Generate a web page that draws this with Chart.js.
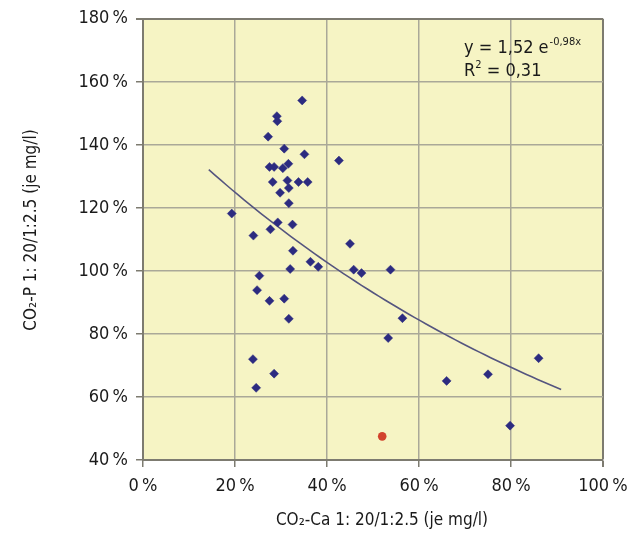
<!DOCTYPE html>
<html>
<head>
<meta charset="utf-8">
<script src="https://cdn.jsdelivr.net/npm/chart.js@4.4.1/dist/chart.umd.min.js"></script>
<style>
  html, body { margin: 0; padding: 0; background: #ffffff; }
  #wrap { width: 637px; height: 536px; position: relative; }
</style>
</head>
<body>
<div id="wrap"><canvas id="c" width="637" height="536"></canvas></div>
<script>
// CO2-Ca (x, %) vs CO2-P (y, %) per sample
const caValues = [34.6, 29.1, 29.2, 27.2, 30.7, 35.1, 42.6, 27.5, 28.5, 31.6, 30.4, 28.2, 31.4, 33.8, 35.8,
                  31.7, 29.8, 31.7, 19.3, 29.3, 32.5, 27.7, 24.0, 45.0, 32.6, 36.4, 38.1, 32.0, 45.8, 47.5,
                  25.3, 24.8, 27.5, 30.7, 31.7, 23.9, 28.5, 24.6, 53.8, 56.4, 53.3, 86.0, 66.0, 75.0, 79.8];
const pValues  = [154.1, 149.1, 147.5, 142.6, 138.8, 137.0, 135.0, 133.0, 133.0, 134.0, 132.6, 128.2, 128.7, 128.2, 128.2,
                  126.3, 124.8, 121.5, 118.2, 115.4, 114.7, 113.2, 111.2, 108.6, 106.4, 102.9, 101.3, 100.6, 100.4, 99.3,
                  98.5, 93.9, 90.5, 91.2, 84.8, 72.0, 67.4, 62.9, 100.4, 85.0, 78.7, 72.3, 65.1, 67.2, 50.9];

// highlighted single sample
const highlightCa = [52.0];
const highlightP  = [47.5];

// exponential fit as printed on the chart: y = 1,52 e^(-0,98x), x and y as fractions
const fitA = 1.52;
const fitB = -0.98;
const fitRange = [14.3, 90.9];

const xTicks = [0, 20, 40, 60, 80, 100];
const yTicks = [40, 60, 80, 100, 120, 140, 160, 180];

const FONT = '"Liberation Sans Narrow", "DejaVu Sans Condensed", "Noto Sans", sans-serif';
const pct = v => v + '\u2009%';

const scatterPts = caValues.map((x, i) => ({ x: x, y: pValues[i] }));
const highlightPts = highlightCa.map((x, i) => ({ x: x, y: highlightP[i] }));
const fitPts = [];
for (let x = fitRange[0]; x <= fitRange[1] + 1e-9; x += (fitRange[1] - fitRange[0]) / 60) {
  fitPts.push({ x: x, y: fitA * Math.exp(fitB * x / 100) * 100 });
}

const plotBg = {
  id: 'plotBg',
  beforeDraw(chart) {
    const { ctx, chartArea: a } = chart;
    ctx.save();
    ctx.fillStyle = '#f6f4c4';
    ctx.fillRect(a.left, a.top, a.right - a.left, a.bottom - a.top);
    ctx.restore();
  }
};

const texts = {
  id: 'texts',
  afterDraw(chart) {
    const ctx = chart.ctx;
    ctx.save();
    ctx.fillStyle = '#1a1a1a';
    // equation box
    ctx.textBaseline = 'alphabetic';
    ctx.textAlign = 'left';
    ctx.font = '18px ' + FONT;
    let x0 = 464, y1 = 53, y2 = 76;
    const main = 'y = 1,52 e';
    ctx.fillText(main, x0, y1);
    let w = ctx.measureText(main).width;
    ctx.font = '11px ' + FONT;
    ctx.fillText('-0,98x', x0 + w + 1, y1 - 8);
    ctx.font = '18px ' + FONT;
    ctx.fillText('R', x0, y2);
    w = ctx.measureText('R').width;
    ctx.font = '11px ' + FONT;
    ctx.fillText('2', x0 + w, y2 - 8);
    const w2 = ctx.measureText('2').width;
    ctx.font = '18px ' + FONT;
    ctx.fillText(' = 0,31', x0 + w + w2, y2);

    // axis titles
    ctx.font = '17px ' + FONT;
    ctx.textAlign = 'center';
    ctx.fillText('CO\u2082-Ca 1: 20/1:2.5 (je mg/l)', 382, 525);
    ctx.translate(36, 230);
    ctx.rotate(-Math.PI / 2);
    ctx.fillText('CO\u2082-P 1: 20/1:2.5 (je mg/l)', 0, 0);
    ctx.restore();
  }
};

new Chart(document.getElementById('c'), {
  type: 'scatter',
  data: {
    datasets: [
      {
        type: 'line',
        data: fitPts,
        borderColor: '#55557f',
        borderWidth: 1.6,
        pointRadius: 0,
        fill: false,
        tension: 0,
        order: 2
      },
      {
        data: scatterPts,
        pointStyle: 'rectRot',
        pointRadius: 4.5,
        backgroundColor: '#2c2b80',
        borderColor: '#2c2b80',
        borderWidth: 0.5,
        order: 1
      },
      {
        data: highlightPts,
        pointStyle: 'circle',
        pointRadius: 4.3,
        backgroundColor: '#d2432c',
        borderColor: '#d2432c',
        borderWidth: 0,
        order: 0
      }
    ]
  },
  options: {
    responsive: false,
    animation: false,
    events: [],
    layout: { padding: { top: 15, right: 34, left: 0, bottom: 0 } },
    plugins: { legend: { display: false }, tooltip: { enabled: false } },
    scales: {
      x: {
        type: 'linear',
        min: 0, max: 100,
        afterBuildTicks: s => { s.ticks = xTicks.map(v => ({ value: v })); },
        afterFit: s => { s.height = 76; },
        ticks: {
          callback: pct,
          color: '#1a1a1a',
          font: { family: FONT, size: 18 },
          padding: 9,
          maxRotation: 0
        },
        grid: {
          color: ctx => (ctx.tick && ctx.tick.value === 100) ? '#7d7b70' : '#aaa898',
          lineWidth: ctx => (ctx.tick && ctx.tick.value === 100) ? 2 : 1.5,
          tickColor: '#7d7b70',
          tickLength: 7,
          drawTicks: true
        },
        border: { color: '#7d7b70', width: 2 }
      },
      y: {
        type: 'linear',
        min: 40, max: 180,
        afterBuildTicks: s => { s.ticks = yTicks.map(v => ({ value: v })); },
        afterFit: s => { s.width = 143; },
        ticks: {
          callback: pct,
          color: '#1a1a1a',
          font: { family: FONT, size: 18 },
          padding: 8
        },
        grid: {
          color: ctx => (ctx.tick && ctx.tick.value === 180) ? '#7d7b70' : '#aaa898',
          lineWidth: ctx => (ctx.tick && ctx.tick.value === 180) ? 2 : 1.5,
          tickColor: '#7d7b70',
          tickLength: 7,
          drawTicks: true
        },
        border: { color: '#7d7b70', width: 2 }
      }
    }
  },
  plugins: [plotBg, texts]
});
</script>
</body>
</html>
